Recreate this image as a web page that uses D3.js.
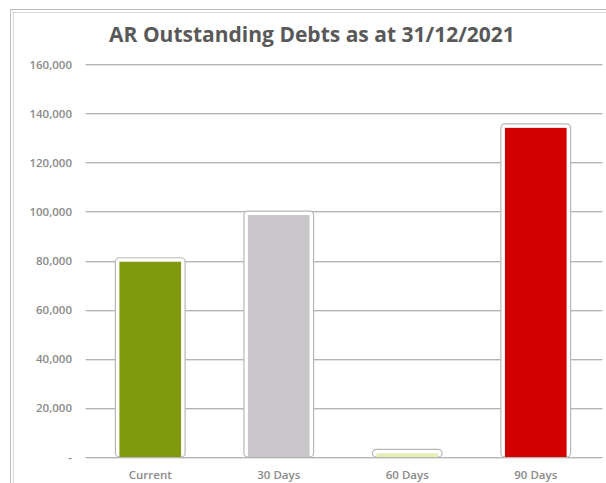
<!DOCTYPE html>
<html>
<head>
<meta charset="utf-8">
<script src="https://cdn.jsdelivr.net/npm/d3@7"></script>
<style>
  html, body { margin: 0; padding: 0; background: #fff; }
  svg { display: block; }
</style>
</head>
<body>
<div id="chart"></div>
<script>
// Ageing buckets and outstanding balances
const categories = ["Current", "30 Days", "60 Days", "90 Days"];
const balances = [79500, 98500, 1500, 134000];
const barColors = ["#7f980c", "#c9c7c9", "#e6efb4", "#d20000"];
const yTicks = [0, 20000, 40000, 60000, 80000, 100000, 120000, 140000, 160000];
const titleText = "AR Outstanding Debts as at 31/12/2021";

const W = 606, H = 483;
const margin = { left: 88, right: 4, top: 64, bottom: 26 };

const svg = d3.select("#chart").append("svg")
  .attr("width", W).attr("height", H);

// chart frame (clipped at right and bottom)
svg.append("rect")
  .attr("x", 10.5).attr("y", 9.5)
  .attr("width", W + 20).attr("height", H + 20)
  .attr("fill", "#fff")
  .attr("stroke", "#bdbdbd").attr("stroke-width", 1);
svg.append("line")
  .attr("x1", 13.5).attr("x2", 13.5).attr("y1", 11).attr("y2", H)
  .attr("stroke", "#d9d9d9");
svg.append("line")
  .attr("x1", 12).attr("x2", W).attr("y1", 12.5).attr("y2", 12.5)
  .attr("stroke", "#d9d9d9");

const y = d3.scaleLinear().domain([0, 160000]).range([H - margin.bottom, margin.top]);
const x = d3.scaleBand().domain(categories)
  .range([86, 600])
  .paddingInner(0.52).paddingOuter(0.26);

// gridlines with a soft shadow underneath
const grid = svg.append("g");
grid.selectAll("line.shadow").data(yTicks).join("line")
  .attr("class", "shadow")
  .attr("x1", margin.left - 2).attr("x2", W - margin.right)
  .attr("y1", d => Math.round(y(d)) + 1.5).attr("y2", d => Math.round(y(d)) + 1.5)
  .attr("stroke", "#e4e4e4").attr("stroke-width", 1);
grid.selectAll("line.main").data(yTicks).join("line")
  .attr("class", "main")
  .attr("x1", margin.left - 2).attr("x2", W - margin.right)
  .attr("y1", d => Math.round(y(d)) + 0.5).attr("y2", d => Math.round(y(d)) + 0.5)
  .attr("stroke", "#b4b4b4").attr("stroke-width", 1.2)
  .attr("stroke-linecap", "round");

// y axis labels
const yAxis = d3.axisLeft(y).tickValues(yTicks)
  .tickSize(0).tickPadding(0)
  .tickFormat(d => d === 0 ? "-" : d3.format(",")(d));
const yg = svg.append("g")
  .attr("transform", `translate(${margin.left - 16},0)`)
  .call(yAxis);
yg.select(".domain").remove();
yg.selectAll("text")
  .attr("font-family", "'Open Sans', sans-serif")
  .attr("font-size", 11.5)
  .attr("font-weight", 600)
  .attr("fill", "#8a8a8a")
  .attr("dy", "0.35em");

// bars: white rim with grey edge, then the coloured fill
const bars = svg.append("g").selectAll("g").data(categories).join("g");
bars.append("rect")
  .attr("x", d => x(d) - 4)
  .attr("y", (d, i) => y(balances[i]) - 4)
  .attr("width", x.bandwidth() + 8)
  .attr("height", (d, i) => y(0) - y(balances[i]) + 4)
  .attr("rx", 4)
  .attr("fill", "#fff")
  .attr("stroke", "#b8b8b8").attr("stroke-width", 1.2);
bars.append("rect")
  .attr("x", d => x(d))
  .attr("y", (d, i) => y(balances[i]))
  .attr("width", x.bandwidth())
  .attr("height", (d, i) => y(0) - y(balances[i]))
  .attr("fill", (d, i) => barColors[i]);

// baseline drawn over the bars
svg.append("line")
  .attr("x1", margin.left - 2).attr("x2", W - margin.right)
  .attr("y1", Math.round(y(0)) + 0.5).attr("y2", Math.round(y(0)) + 0.5)
  .attr("stroke", "#b4b4b4").attr("stroke-width", 1.2)
  .attr("stroke-linecap", "round");

// x axis labels
const xAxis = d3.axisBottom(x).tickSize(0).tickPadding(0);
const xg = svg.append("g")
  .attr("transform", `translate(0,${y(0) + 18})`)
  .call(xAxis);
xg.select(".domain").remove();
xg.selectAll("text")
  .attr("font-family", "'Open Sans', sans-serif")
  .attr("font-size", 11.5)
  .attr("font-weight", 600)
  .attr("fill", "#8a8a8a")
  .attr("dy", "0.35em");

// title
svg.append("text")
  .attr("x", 312).attr("y", 42)
  .attr("text-anchor", "middle")
  .attr("font-family", "'Open Sans', sans-serif")
  .attr("font-size", 21)
  .attr("font-weight", 700)
  .attr("fill", "#595959")
  .text(titleText);
</script>
</body>
</html>
